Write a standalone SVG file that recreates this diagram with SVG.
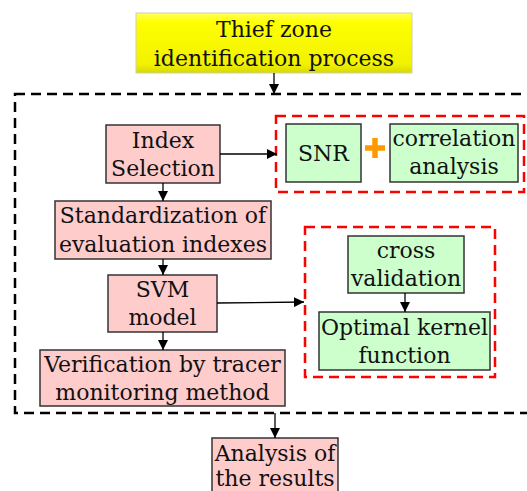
<svg xmlns="http://www.w3.org/2000/svg" width="527" height="491" viewBox="0 0 527 491">
<defs>
<linearGradient id="yg" x1="0" y1="0" x2="0" y2="1">
<stop offset="0" stop-color="#ffff60"/>
<stop offset="0.15" stop-color="#ffff00"/>
<stop offset="0.85" stop-color="#f2f200"/>
<stop offset="1" stop-color="#d8d800"/>
</linearGradient>
<marker id="ah" viewBox="0 0 10 10" refX="10" refY="5" markerWidth="10" markerHeight="10" markerUnits="userSpaceOnUse" orient="auto">
<path d="M0,0 L10,5 L0,10 z" fill="#000"/>
</marker>
<style>
text{font-family:"DejaVu Serif","Liberation Serif",serif;font-size:22px;fill:#111;text-anchor:middle}
.pink{fill:#ffcccc;stroke:#333;stroke-width:1.5}
.green{fill:#ccffcc;stroke:#333;stroke-width:1.5}
.bdash{fill:none;stroke:#000;stroke-width:2.5;stroke-dasharray:10 6}
.rdash{fill:none;stroke:#ff0000;stroke-width:2.5;stroke-dasharray:10 6}
.con{fill:none;stroke:#000;stroke-width:1.3;marker-end:url(#ah)}
</style>
</defs>
<rect class="bdash" x="15" y="94" width="530" height="319"/>
<rect class="rdash" x="276" y="116" width="248" height="76"/>
<rect class="rdash" x="305" y="227" width="190" height="150"/>
<g id="start">
<rect x="136" y="13" width="276" height="60" fill="url(#yg)" stroke="#d0d0b0" stroke-width="1"/>
<text x="274" y="37">Thief zone</text>
<text x="274" y="66">identification  process</text>
</g>
<g id="index">
<rect class="pink" x="106" y="125" width="114" height="58"/>
<text x="163" y="148">Index</text>
<text x="163" y="176">Selection</text>
</g>
<g id="snr">
<rect class="green" x="286" y="124" width="75" height="58"/>
<text x="323.5" y="161">SNR</text>
</g>
<g id="plus">
<path d="M365,148 H385 M375,138 V158" stroke="#ff9900" stroke-width="5.5" fill="none"/>
</g>
<g id="corr">
<rect class="green" x="390" y="124" width="128" height="58"/>
<text x="454" y="146">correlation</text>
<text x="454" y="174">analysis</text>
</g>
<g id="std">
<rect class="pink" x="55" y="201" width="216" height="58"/>
<text x="163" y="223">Standardization of</text>
<text x="163" y="252">evaluation indexes</text>
</g>
<g id="svm">
<rect class="pink" x="108" y="275" width="109" height="57"/>
<text x="162.5" y="297">SVM</text>
<text x="162.5" y="325">model</text>
</g>
<g id="cross">
<rect class="green" x="348" y="236" width="116" height="57"/>
<text x="406" y="258">cross</text>
<text x="406" y="286">validation</text>
</g>
<g id="kernel">
<rect class="green" x="319" y="312" width="171" height="58"/>
<text x="404.5" y="335">Optimal kernel</text>
<text x="404.5" y="363">function</text>
</g>
<g id="verify">
<rect class="pink" x="40" y="350" width="245" height="56"/>
<text x="162.5" y="372">Verification by tracer</text>
<text x="162.5" y="400">monitoring method</text>
</g>
<g id="results">
<rect class="pink" x="212" y="438" width="126" height="62"/>
<text x="275" y="461">Analysis of</text>
<text x="275" y="486">the results</text>
</g>
<g id="connectors">
<path class="con" d="M274,73 V94"/>
<path class="con" d="M220,154 H277"/>
<path class="con" d="M163,183 V201"/>
<path class="con" d="M163,259 V275"/>
<path class="con" d="M217,303 L304,302"/>
<path class="con" d="M163,332 V350"/>
<path class="con" d="M405,293 V312"/>
<path class="con" d="M275,413 V438"/>
</g>
</svg>
